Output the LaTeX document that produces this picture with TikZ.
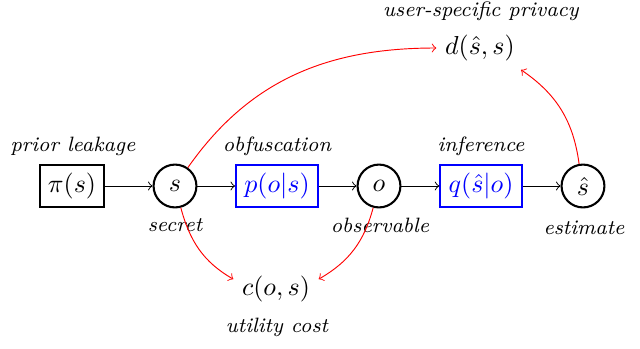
\documentclass[tikz,border=0pt]{standalone}
\begin{document}
\begin{tikzpicture}[x=0.385pt,y=-0.385pt,
  boxnode/.style={draw,thick,rectangle,inner sep=3.2pt,minimum height=16.5pt},
  bluebox/.style={boxnode,draw=blue,text=blue},
  circnode/.style={draw,thick,circle,minimum size=16.5pt,inner sep=1pt},
  plain/.style={inner sep=3.2pt},
  lab/.style={font=\footnotesize\itshape,inner sep=0pt},
  flow/.style={->,line width=0.36pt},
  redflow/.style={->,red,line width=0.36pt}]
\useasboundingbox (0,0) rectangle (640,348);
% main chain
\node[boxnode] (pi) at (72,186) {$\pi(s)$};
\node[circnode] (s) at (175,186) {$s$};
\node[bluebox] (p) at (277,186) {$p(o|s)$};
\node[circnode] (o) at (379,186) {$o$};
\node[bluebox] (q) at (481,186) {$q(\hat{s}|o)$};
\node[circnode] (sh) at (583,186) {$\hat{s}$};
\node[plain] (d) at (480,48) {$d(\hat{s},s)$};
\node[plain] (c) at (276,289) {$c(o,s)$};
% labels
\node[lab] (l1) at (73,146) {prior leakage};
\node[lab] (l2) at (277,146) {obfuscation};
\node[lab] (l3) at (481,146) {inference};
\node[lab] (l4) at (481,11) {user-specific privacy};
\node[lab] (l5) at (175,225) {secret};
\node[lab] (l6) at (380,225) {observable};
\node[lab] (l7) at (584,228) {estimate};
\node[lab] (l8) at (277,327) {utility cost};
% black connectors
\draw[flow] (pi) -- (s);
\draw[flow] (s) -- (p);
\draw[flow] (p) -- (o);
\draw[flow] (o) -- (q);
\draw[flow] (q) -- (sh);
% red connectors
\draw[redflow] (s) to[out=55,in=180] (d.west);
\draw[redflow] (sh.100) to[bend right=24] (d.-28);
\draw[redflow] (s) to[out=-75,in=150] (c.167);
\draw[redflow] (o) to[out=-105,in=30] (c.13);
\end{tikzpicture}
\end{document}
